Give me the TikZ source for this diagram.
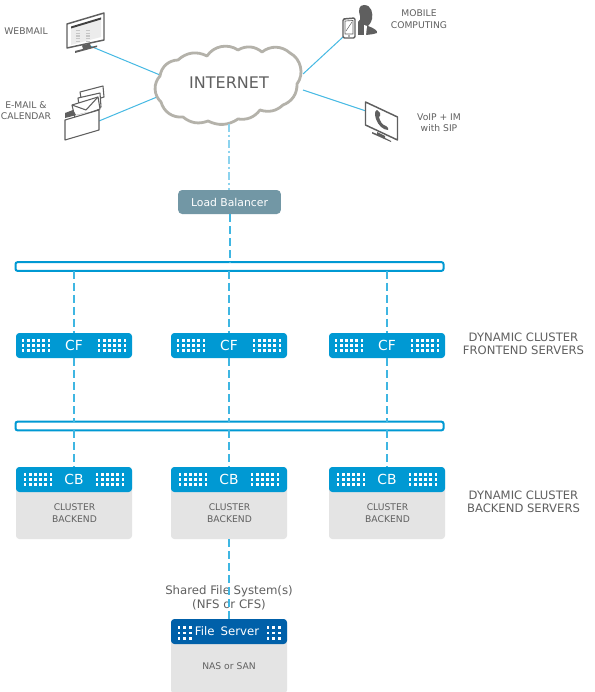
\documentclass[tikz,border=0pt]{standalone}
\usepackage{fontspec}
\setmainfont{DejaVu Sans}
\usetikzlibrary{calc}
\definecolor{cblue}{HTML}{0099D3}
\definecolor{fsblue}{HTML}{0060A9}
\definecolor{dashblue}{HTML}{3FB6E2}
\definecolor{lineblue}{HTML}{45B9E3}
\definecolor{lbgrey}{HTML}{7297A5}
\definecolor{panel}{HTML}{E4E4E4}
\definecolor{txt}{HTML}{606060}
\definecolor{icon}{HTML}{5F5F5F}
\definecolor{cloudline}{HTML}{B4B2AA}
\newcommand{\fs}[1]{\fontsize{#1}{#1}\selectfont}
\tikzset{
  x=0.75pt,y=-0.75pt,
  every node/.style={inner sep=0pt,outer sep=0pt,align=center,text=txt},
  bluebox/.style={fill=cblue,rounded corners=2.5pt,minimum width=87pt,minimum height=18.75pt,text=white,font=\fs{10.4}},
  panelbox/.style={fill=panel,rounded corners=2.5pt,minimum width=87pt,minimum height=54pt},
  busbar/.style={draw=cblue,line width=1.5pt,fill=white,rounded corners=1.5pt,minimum width=321pt,minimum height=6.5pt},
  lbbox/.style={fill=lbgrey,rounded corners=3pt,minimum width=77pt,minimum height=18pt,text=white,font=\fs{8.1}},
  link/.style={draw=dashblue,line width=1.5pt,dash pattern=on 6pt off 3pt},
  faint/.style={draw=dashblue!60,line width=1.2pt,dash pattern=on 6pt off 2pt on 2pt off 2pt},
  wire/.style={draw=lineblue,line width=0.75pt},
  lab/.style={font=\fs{6.9}},
  biglab/.style={font=\fs{8.8}},
  sidelab/.style={font=\fs{8.7}},
  iconline/.style={draw=icon,line width=0.8pt,line join=round},
  dot/.style={fill=white,draw=none},
}
% #1 x centre of grid, #2 y centre, #3 cols, #4 rows, #5 step
\newcommand{\dotgrid}[5]{%
  \pgfmathsetmacro{\xs}{#1-(#3-1)*#5/2}\pgfmathsetmacro{\ys}{#2-(#4-1)*#5/2}%
  \foreach \i in {1,...,#3}{\foreach \j in {1,...,#4}{%
    \fill[dot] ({\xs+(\i-1)*#5-1.4},{\ys+(\j-1)*#5-1.4}) rectangle ++(2.8,2.8);}}}
\begin{document}
\begin{tikzpicture}
\useasboundingbox (0,0) rectangle (594,692);
\fill[white] (0,0) rectangle (594,692);

% connector end points on the cloud and on the icons
\coordinate (cW) at (160,75);
\coordinate (cE) at (157,97);
\coordinate (cM) at (303,74);
\coordinate (cV) at (303,90);
\coordinate (iW) at (90,46);
\coordinate (iE) at (99,121);
\coordinate (iM) at (343,37);
\coordinate (iV) at (366,111);
\draw[wire] (cW) -- (iW);
\draw[wire] (cE) -- (iE);
\draw[wire] (cM) -- (iM);
\draw[wire] (cV) -- (iV);

% cloud
\draw[cloudline,line width=2.1pt,fill=white,line join=round]
  (161,102) to[bend left=45] (160,76) to[bend left=40] (178,60)
  to[bend left=35] (207,56) to[bend left=45] (238,50) to[bend left=35] (262,52)
  to[bend left=40] (290,53) to[bend left=50] (297,84) to[bend left=35] (283,105)
  to[bend left=30] (260,110) to[bend left=30] (238,119) to[bend left=30] (208,121)
  to[bend left=30] (183,117) to[bend left=40] (161,102) -- cycle;
\node[font=\fs{12}] (inet) at (229,82.5) {INTERNET};
\coordinate (inetS) at (229,124);

% webmail monitor
\draw[icon,line width=1.1pt,fill=white,line join=round] (67,24) -- (104,13) -- (104,40) -- (67,48) -- cycle;
\fill[gray!15] (71,28) -- (101,18) -- (101,37) -- (71,45) -- cycle;
\fill[black!75] (71,26.5) -- (101,17.5) -- (101,19.5) -- (71,28.5) -- cycle;
\foreach \c in {78,88}{\draw[gray!45,line width=2.5pt,dash pattern=on 1pt off 1pt] (\c,30) -- (\c,41);}
\fill[icon] (82,45.5) -- (90,43.5) -- (91,47) -- (97,45.5) -- (97,47) -- (75,53) -- (75,51) -- (83,49) -- cycle;

% e-mail folder and envelopes
\draw[iconline,fill=white] (80,92) -- (103,86) -- (104,97) -- (82,104) -- cycle;
\draw[iconline,fill=white] (78,98) -- (100,93) -- (101,107) -- (80,113) -- cycle;
\draw[iconline,fill=white] (72,105) -- (98,97) -- (100,109) -- (75,118) -- cycle;
\draw[iconline] (72,105) -- (86,110) -- (98,97);
\fill[icon] (65,118) -- (65,113) -- (73,110) -- (76,115) -- (88,112) -- cycle;
\draw[iconline,fill=white] (65,120) -- (99,110) -- (99,130) -- (65,140) -- cycle;

% mobile
\fill[icon] (364,5) .. controls (372,5) and (373,14) .. (372,19) .. controls (371,23) and (369,25) .. (368,26) .. controls (374,28) and (378,31) .. (377,33) .. controls (372,35) and (365,35) .. (358,35) -- (358,22) .. controls (361,21) and (360,18) .. (360,16) .. controls (358,10) and (359,5) .. (364,5) -- cycle;
\fill[white] (364,25) -- (367,26) -- (366,35) -- (364,35) -- cycle;
\draw[icon,line width=1.1pt,fill=white,rounded corners=1pt] (343,19) -- (355,18) -- (355,38) -- (343,38) -- cycle;
\draw[icon,line width=0.5pt] (345,21) -- (353,20.5) -- (353,34) -- (345,34) -- cycle;
\draw[icon,line width=0.4pt] (346,31) -- (352,22);
\fill[icon] (349,36) circle (0.9);

% VoIP monitor
\draw[icon,line width=1.1pt,fill=white,line join=round] (365.5,102) -- (397.5,117) -- (397.5,140) -- (365.5,125) -- cycle;
\fill[icon] (377,110) .. controls (374,111) and (375,116) .. (376,119) .. controls (378,125) and (383,130) .. (388,130) .. controls (389,129) and (388,127) .. (386,126) .. controls (382,125) and (380,121) .. (379,117) .. controls (380,116) and (381,115) .. (380,113) -- cycle;
\fill[icon] (377,132) -- (385,136) -- (385,138) -- (391,141) -- (391,142) -- (372,133.5) -- (372,132) -- (377,134) -- cycle;

% labels for the clients
\node[lab] (lW) at (26,31.5) {WEBMAIL};
\node[lab] (lE) at (26,110.5) {E-MAIL \&\\[1.6pt]CALENDAR};
\node[lab] (lM) at (419,19) {MOBILE\\[1.6pt]COMPUTING};
\node[lab] (lV) at (439,123) {VoIP + IM\\[1.6pt]with SIP};

% load balancer
\node[lbbox] (lb) at (229.5,202) {Load Balancer};

% buses
\node[busbar] (bus1) at (229.5,266.5) {};
\node[busbar] (bus2) at (229.5,426) {};

% frontend
\node[bluebox] (cf1) at (74,345.5) {CF};
\node[bluebox] (cf2) at (229,345.5) {CF};
\node[bluebox] (cf3) at (387,345.5) {CF};

% backend
\node[panelbox] (p1) at (74,503) {};
\node[panelbox] (p2) at (229,503) {};
\node[panelbox] (p3) at (387,503) {};
\node[bluebox] (cb1) at (74,479.5) {CB};
\node[bluebox] (cb2) at (229,479.5) {CB};
\node[bluebox] (cb3) at (387,479.5) {CB};
\node[lab] (t1) at (74.5,513) {CLUSTER\\[1.6pt]BACKEND};
\node[lab] (t2) at (229.5,513) {CLUSTER\\[1.6pt]BACKEND};
\node[lab] (t3) at (387.5,513) {CLUSTER\\[1.6pt]BACKEND};

\foreach \cx in {74,229,387}{
  \dotgrid{\cx-38}{345.5}{6}{3}{5.2}
  \dotgrid{\cx+38}{345.5}{6}{3}{5.2}
  \dotgrid{\cx-36}{479.5}{6}{3}{5.2}
  \dotgrid{\cx+36}{479.5}{6}{3}{5.2}
}

% file server
\node[panelbox,minimum height=54pt] (nas) at (229,657.5) {};
\node[bluebox,fill=fsblue,font=\fs{8.8}] (fs) at (229,631.5) {\hspace{-3pt}File\hspace{0.2em} Server};
\dotgrid{184.5}{633}{3}{3}{5.6}
\dotgrid{273.5}{633}{3}{3}{5.6}
\node[lab] (tn) at (229,666.5) {NAS or SAN};
\node[biglab] (shared) at (229,597.5) {Shared File System(s)\\[1.6pt](NFS or CFS)};

% side labels
\node[sidelab] (lf) at (523.5,344) {DYNAMIC CLUSTER\\[1.2pt]FRONTEND SERVERS};
\node[sidelab] (lk) at (523.5,501.5) {DYNAMIC CLUSTER\\[1.2pt]BACKEND SERVERS};

% dashed connectors
\draw[faint] (inetS) -- (inetS |- lb.north);
\draw[link] (lb.south) -- (lb.south |- bus1.north);
\foreach \n in {1,2,3}{
  \draw[link] (cf\n.north |- bus1.south) -- (cf\n.north);
  \draw[link] (cf\n.south) -- (cf\n.south |- bus2.north);
  \draw[link] (cb\n.north |- bus2.south) -- (cb\n.north);
}
\draw[link] (p2.south) -- (fs.north);
\end{tikzpicture}
\end{document}
